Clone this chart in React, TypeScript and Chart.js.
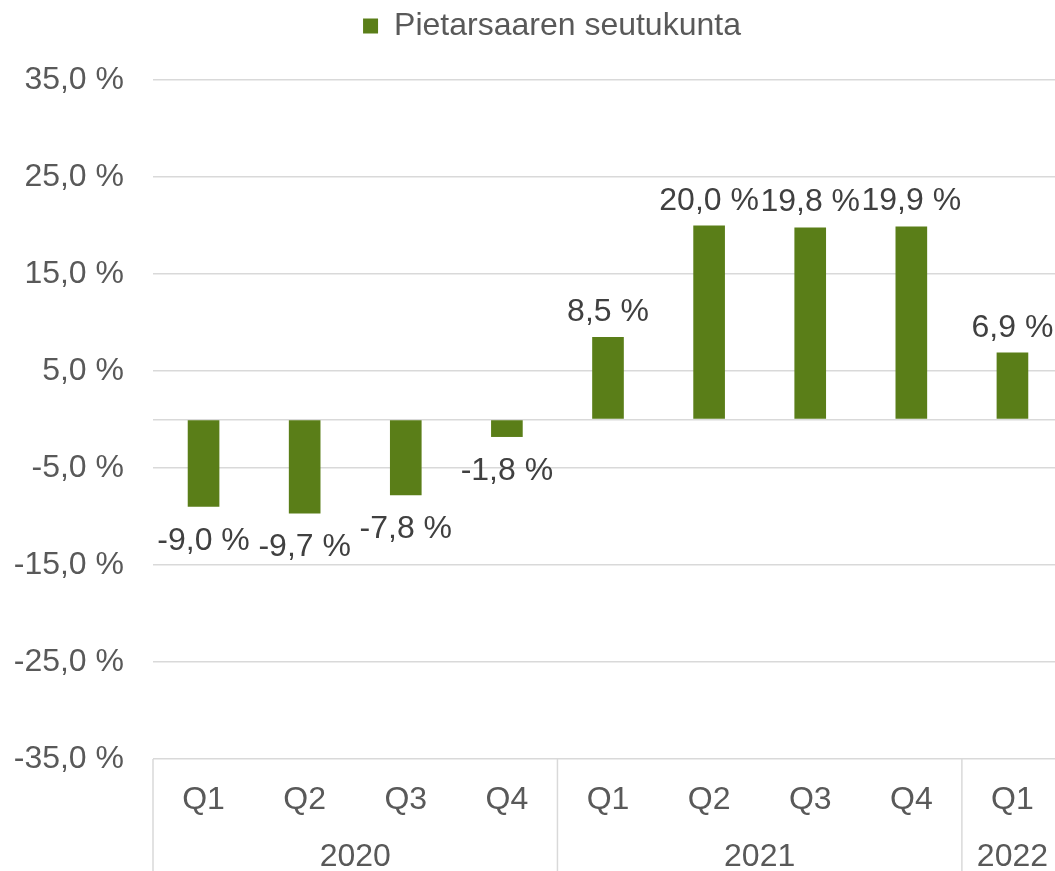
import React, { useEffect, useRef } from 'react';
import { Chart, registerables } from 'chart.js';

Chart.register(...registerables);

const quarters = ['Q1', 'Q2', 'Q3', 'Q4', 'Q1', 'Q2', 'Q3', 'Q4', 'Q1'];
const years = ['2020', '2021', '2022'];
const yearSpans = [4, 4, 1];
const values = [-9.0, -9.7, -7.8, -1.8, 8.5, 20.0, 19.8, 19.9, 6.9];
const seriesName = 'Pietarsaaren seutukunta';
const yTicks = [-35, -25, -15, -5, 0, 5, 15, 25, 35];

const FONT = '"Liberation Sans", Arial, sans-serif';
const BAR = '#5A7E18';
const GRID = '#D9D9D9';
const AXIS_TEXT = '#595959';
const LABEL_TEXT = '#404040';

const fmt = (v: number) => v.toFixed(1).replace('.', ',') + ' %';

const legendSpacePlugin = {
  id: 'legendSpacePlugin',
  afterInit(chart: any) {
    const legend = chart.legend;
    if (!legend || legend.__patched) return;
    const orig = legend.fit.bind(legend);
    legend.fit = function () {
      orig();
      this.height += 28;
    };
    legend.__patched = true;
  },
  afterLayout(chart: any) {
    const legend = chart.legend;
    if (legend) {
      legend.left += 41;
    }
  },
};

const groupPlugin = {
  id: 'groupPlugin',
  afterDraw(chart: any) {
    const ctx = chart.ctx;
    const x = chart.scales.x;
    const area = chart.chartArea;
    const half = (x.getPixelForValue(1) - x.getPixelForValue(0)) / 2;
    ctx.save();
    ctx.strokeStyle = GRID;
    ctx.lineWidth = 1.5;
    ctx.fillStyle = AXIS_TEXT;
    ctx.font = `32px ${FONT}`;
    ctx.textAlign = 'center';
    ctx.textBaseline = 'middle';
    let start = 0;
    years.forEach((yr, gi) => {
      const end = start + yearSpans[gi] - 1;
      const left = x.getPixelForValue(start) - half;
      ctx.beginPath();
      ctx.moveTo(left, area.bottom);
      ctx.lineTo(left, chart.height);
      ctx.stroke();
      const cx = (x.getPixelForValue(start) + x.getPixelForValue(end)) / 2;
      ctx.fillText(yr, cx, area.bottom + 98);
      start = end + 1;
    });
    ctx.restore();
  },
};

const labelPlugin = {
  id: 'labelPlugin',
  afterDatasetsDraw(chart: any) {
    const ctx = chart.ctx;
    const meta = chart.getDatasetMeta(0);
    ctx.save();
    ctx.fillStyle = LABEL_TEXT;
    ctx.font = `32px ${FONT}`;
    ctx.textAlign = 'center';
    meta.data.forEach((bar: any, i: number) => {
      const v = values[i];
      if (v >= 0) {
        ctx.textBaseline = 'alphabetic';
        ctx.fillText(fmt(v), bar.x, bar.y - 16);
      } else {
        ctx.textBaseline = 'top';
        ctx.fillText(fmt(v), bar.x, bar.y + 18);
      }
    });
    ctx.restore();
  },
};

export default function App() {
  const ref = useRef<HTMLCanvasElement>(null);
  useEffect(() => {
    if (!ref.current) return;
    const chart = new Chart(ref.current, {
      type: 'bar',
      data: {
        labels: quarters,
        datasets: [
          {
            label: seriesName,
            data: values,
            backgroundColor: BAR,
            borderWidth: 0,
            categoryPercentage: 1,
            barPercentage: 0.313,
          },
        ],
      },
      options: {
        responsive: false,
        animation: false,
        devicePixelRatio: 1,
        layout: { padding: { left: 0, right: 0, top: 0, bottom: 0 } },
        plugins: {
          legend: {
            position: 'top',
            labels: {
              boxWidth: 15,
              boxHeight: 15,
              color: AXIS_TEXT,
              font: { family: FONT, size: 32 },
              padding: 10,
            },
          },
          tooltip: { enabled: false },
        },
        scales: {
          x: {
            grid: { display: false },
            border: { display: false },
            ticks: {
              color: AXIS_TEXT,
              font: { family: FONT, size: 32 },
              padding: 14,
              maxRotation: 0,
              autoSkip: false,
            },
            afterFit: (s: any) => {
              s.height = 112;
            },
          },
          y: {
            min: -35,
            max: 35,
            afterBuildTicks: (s: any) => {
              s.ticks = yTicks.map((v) => ({ value: v }));
            },
            grid: { color: GRID, lineWidth: 1.5, drawTicks: false },
            border: { display: false },
            ticks: {
              color: AXIS_TEXT,
              font: { family: FONT, size: 32 },
              padding: 29,
              callback: (v: any) => (Number(v) === 0 ? '' : fmt(Number(v))),
            },
            afterFit: (s: any) => {
              s.width = 153;
            },
          },
        },
      },
      plugins: [legendSpacePlugin, groupPlugin, labelPlugin],
    });
    chart.update();
    return () => chart.destroy();
  }, []);
  return (
    <div
      style={{
        position: 'fixed',
        left: 0,
        top: 0,
        width: 1055,
        height: 871,
        overflow: 'hidden',
        background: '#fff',
      }}
    >
      <canvas ref={ref} width={1063} height={871} style={{ display: 'block' }} />
    </div>
  );
}
